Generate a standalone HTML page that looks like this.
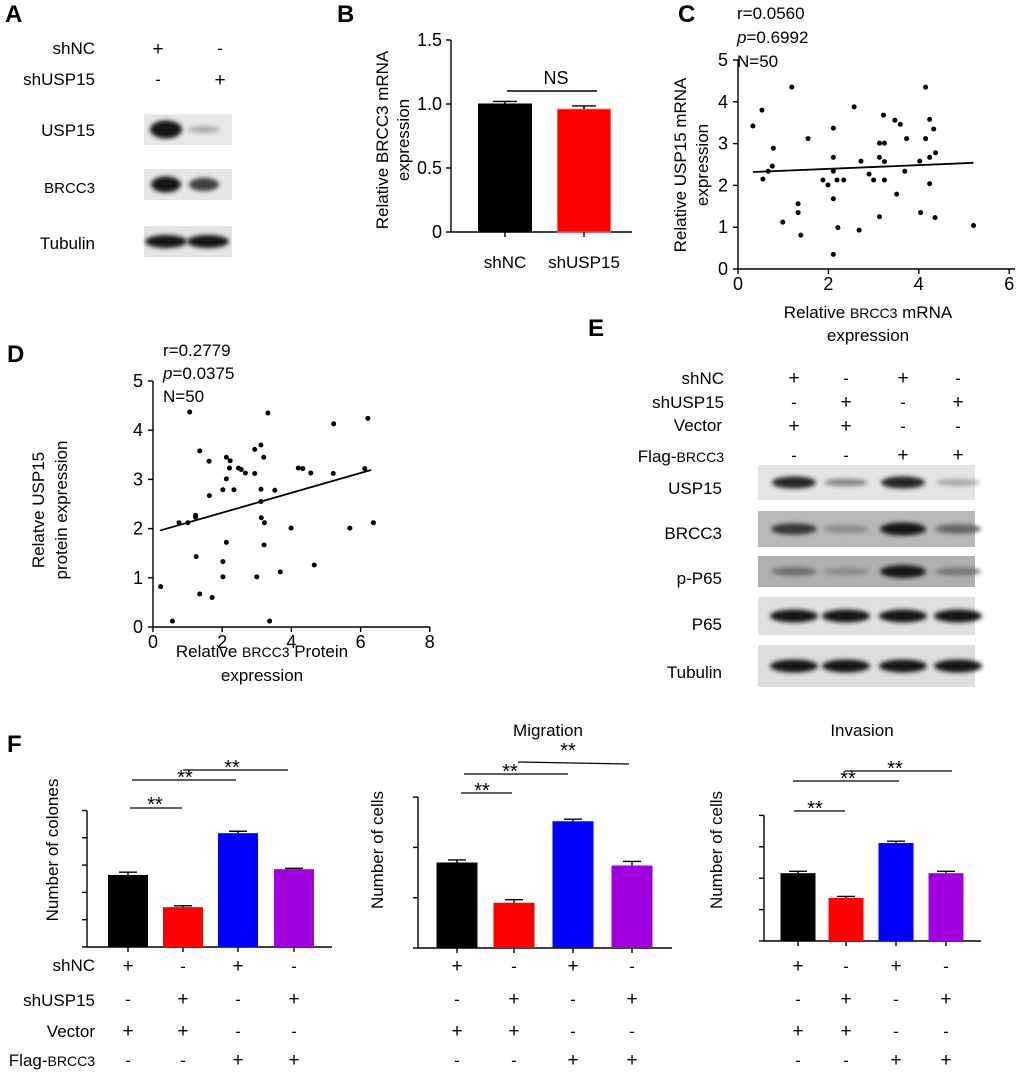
<!DOCTYPE html>
<html><head><meta charset="utf-8"><style>
html,body{margin:0;padding:0;background:#fff}
svg{display:block;font-family:"Liberation Sans",Arial,sans-serif}
</style></head><body>
<svg id="fig" width="1020" height="1077" viewBox="0 0 1020 1077" xmlns="http://www.w3.org/2000/svg">
<defs>
<filter id="blur1" x="-20%" y="-100%" width="140%" height="300%"><feGaussianBlur stdDeviation="2"/></filter>
</defs>
<g font-size="17" fill="#000">
<text x="5" y="22" font-size="24" font-weight="bold">A</text>
<text x="337" y="22" font-size="24" font-weight="bold">B</text>
<text x="678" y="22" font-size="24" font-weight="bold">C</text>
<text x="7" y="362" font-size="24" font-weight="bold">D</text>
<text x="588" y="336" font-size="24" font-weight="bold">E</text>
<text x="7" y="752" font-size="24" font-weight="bold">F</text>
</g>
<g id="pA" font-size="17">
<text x="95" y="54" text-anchor="end">shNC</text>
<text x="95" y="85" text-anchor="end">shUSP15</text>
<text x="158" y="55" text-anchor="middle" font-size="19">+</text>
<text x="220" y="54" text-anchor="middle">-</text>
<text x="158" y="85" text-anchor="middle">-</text>
<text x="220" y="86" text-anchor="middle" font-size="19">+</text>
<text x="95" y="136" text-anchor="end">USP15</text>
<text x="95" y="193" text-anchor="end" font-size="15">BRCC3</text>
<text x="95" y="249" text-anchor="end">Tubulin</text>
</g>
<g id="pB" font-size="17">
<text transform="translate(388,140) rotate(-90)" text-anchor="middle">Relative BRCC3 mRNA</text>
<text transform="translate(409,140) rotate(-90)" text-anchor="middle">expression</text>
</g>
<g id="pC" font-size="17">
<text x="737" y="19">r=0.0560</text>
<text x="737" y="43"><tspan font-style="italic">p</tspan>=0.6992</text>
<text x="737" y="67">N=50</text>
<text transform="translate(686,165) rotate(-90)" text-anchor="middle">Relative USP15  mRNA</text>
<text transform="translate(708,165) rotate(-90)" text-anchor="middle">expression</text>
<text x="868" y="318" text-anchor="middle">Relative <tspan font-size="14">BRCC3</tspan> mRNA</text>
<text x="868" y="341" text-anchor="middle">expression</text>
</g>
<g id="pD" font-size="17">
<text x="163" y="356">r=0.2779</text>
<text x="163" y="379"><tspan font-style="italic">p</tspan>=0.0375</text>
<text x="163" y="402">N=50</text>
<text transform="translate(44,510) rotate(-90)" text-anchor="middle">Relatve USP15</text>
<text transform="translate(67,510) rotate(-90)" text-anchor="middle">protein expression</text>
<text x="262" y="657" text-anchor="middle">Relative <tspan font-size="14">BRCC3</tspan> Protein</text>
<text x="262" y="681" text-anchor="middle">expression</text>
</g>
<g id="pE" font-size="17">
<text x="724" y="384" text-anchor="end">shNC</text>
<text x="724" y="408" text-anchor="end">shUSP15</text>
<text x="722" y="431" text-anchor="end">Vector</text>
<text x="724" y="462" text-anchor="end">Flag-<tspan font-size="14">BRCC3</tspan></text>
<text x="722" y="494" text-anchor="end">USP15</text>
<text x="722" y="539" text-anchor="end">BRCC3</text>
<text x="722" y="584" text-anchor="end">p-P65</text>
<text x="722" y="630" text-anchor="end">P65</text>
<text x="722" y="678" text-anchor="end">Tubulin</text>
</g>
<g id="pF" font-size="17">
<text x="548" y="736" text-anchor="middle">Migration</text>
<text x="862" y="736" text-anchor="middle">Invasion</text>
<text transform="translate(58,850) rotate(-90)" text-anchor="middle">Number of colones</text>
<text transform="translate(383,850) rotate(-90)" text-anchor="middle">Number of cells</text>
<text transform="translate(722,850) rotate(-90)" text-anchor="middle">Number of cells</text>
<text x="95" y="971" text-anchor="end">shNC</text>
<text x="95" y="1006" text-anchor="end">shUSP15</text>
<text x="95" y="1037" text-anchor="end">Vector</text>
<text x="95" y="1066" text-anchor="end">Flag-<tspan font-size="14">BRCC3</tspan></text>
</g>
</svg>
<script>
const bCategories = ["shNC", "shUSP15"];
const bValues = [1.0, 0.96];
const bErrors = [0.02, 0.025];
const bTicks = ["0", "0.5", "1.0", "1.5"];

const cX = [0.33,0.53,0.55,0.67,0.76,0.78,1.19,0.99,1.33,1.33,1.39,1.55,1.88,1.99,2.11,2.11,2.11,2.11,2.19,2.34,2.21,2.11,2.57,2.68,2.72,2.90,3.00,3.13,3.13,3.13,3.22,3.24,3.24,3.24,3.47,3.51,3.59,3.69,3.73,4.02,4.04,4.15,4.15,4.24,4.24,4.24,4.33,4.37,4.36,5.21];
const cY = [3.42,3.80,2.15,2.34,2.46,2.89,4.35,1.12,1.56,1.35,0.81,3.12,2.13,2.01,3.37,2.67,2.34,1.68,2.13,2.13,0.99,0.35,3.88,0.93,2.58,2.27,2.13,3.01,2.67,1.25,3.68,3.01,2.57,2.13,3.56,1.79,3.46,2.34,3.12,2.58,1.35,4.35,3.12,3.58,2.67,2.04,3.35,2.78,1.23,1.04];
const cFitX = [0.33, 5.21];
const cFitY = [2.32, 2.54];
const cXTicks = [0, 2, 4, 6];
const cYTicks = [0, 1, 2, 3, 4, 5];

const dX = [0.22,0.56,1.06,1.35,1.62,1.23,1.23,0.75,1.01,1.25,1.35,1.71,1.63,2.02,2.12,2.12,2.23,2.21,2.34,2.47,2.67,2.94,2.94,3.12,3.12,3.20,3.12,3.13,3.22,3.21,3.32,3.37,3.52,3.68,3.99,2.02,2.02,2.12,3.00,4.20,4.33,4.56,4.66,5.21,5.22,5.69,6.12,6.21,6.37,2.55];
const dY = [0.82,0.12,4.37,3.58,3.37,2.27,2.23,2.12,2.12,1.43,0.67,0.60,2.67,2.79,3.01,3.45,3.38,3.23,2.79,3.23,3.13,3.61,3.12,3.70,2.80,3.45,2.55,2.22,2.12,1.67,4.35,0.12,2.78,1.12,2.01,1.33,1.02,1.72,1.02,3.23,3.22,3.13,1.26,3.12,4.13,2.01,3.22,4.24,2.12,3.20];
const dFitX = [0.2, 6.3];
const dFitY = [1.96, 3.19];
const dXTicks = [0, 2, 4, 6, 8];
const dYTicks = [0, 1, 2, 3, 4, 5];

const fGroups = ["shNC+Vector", "shUSP15+Vector", "shNC+Flag-BRCC3", "shUSP15+Flag-BRCC3"];
const fColoniesValues = [2.64, 1.46, 4.17, 2.85];
const fColoniesErrors = [0.1, 0.05, 0.07, 0.03];
const fMigrationValues = [1.70, 0.90, 2.52, 1.64];
const fMigrationErrors = [0.05, 0.06, 0.04, 0.08];
const fInvasionValues = [2.16, 1.37, 3.12, 2.16];
const fInvasionErrors = [0.06, 0.05, 0.06, 0.06];
const fRowShNC = ["+", "-", "+", "-"];
const fRowShUSP15 = ["-", "+", "-", "+"];
const fRowVector = ["+", "+", "-", "-"];
const fRowFlag = ["-", "-", "+", "+"];
const fColors = ["#000000", "#ff0000", "#0000ff", "#a000e0"];

const aUSP15 = [1.0, 0.15];
const aBRCC3 = [1.0, 0.75];
const aTubulin = [1.0, 1.0];
const eUSP15 = [0.9, 0.35, 0.9, 0.2];
const eBRCC3 = [0.8, 0.35, 1.0, 0.55];
const ePP65 = [0.5, 0.35, 1.0, 0.45];
const eP65 = [1.0, 1.0, 1.0, 1.0];
const eTubulin = [1.0, 1.0, 1.0, 1.0];
const eShNC = ["+", "-", "+", "-"];
const eShUSP15 = ["-", "+", "-", "+"];
const eVector = ["+", "+", "-", "-"];
const eFlag = ["-", "-", "+", "+"];

const NS = "http://www.w3.org/2000/svg";
const svg = document.getElementById("fig");
function mk(tag, attrs, parent) {
  const e = document.createElementNS(NS, tag);
  for (const k in attrs) e.setAttribute(k, attrs[k]);
  (parent || svg).appendChild(e);
  return e;
}
function line(x1, y1, x2, y2, w) {
  const l = mk("line", {x1, y1, x2, y2, stroke: "#000", "stroke-width": w || 1.4});
  
  
  return l;
}
function txt(x, y, s, anchor, size) {
  const t = mk("text", {x, y, "text-anchor": anchor || "middle", "font-size": size || 17});
  t.textContent = s;
  
  
  return t;
}

(function () {
  const x0 = 451, base = 232, unit = 128, centers = [505, 584], bw = 53;
  const y = v => base - v * unit;
  line(x0, y(1.5), x0, base);
  line(x0, base, 632, base);
  bTicks.forEach(t => {
    const v = parseFloat(t);
    line(x0 - 5, y(v), x0, y(v));
    txt(x0 - 9, y(v) + 6, t, "end", 18);
  });
  bValues.forEach((v, i) => {
    const c = centers[i];
    const r = mk("rect", {x: c - bw / 2, y: y(v), width: bw, height: base - y(v), fill: i ? "#ff0000" : "#000", stroke: i ? "#ff6060" : "#000"});
    
    
    line(c, y(v), c, y(v + bErrors[i]), 1.4);
    line(c - 12, y(v + bErrors[i]), c + 12, y(v + bErrors[i]), 1.4);
    line(c, base, c, base + 5);
    txt(c, 268, bCategories[i], "middle", 17);
  });
  line(507, 91, 597, 91);
  txt(556, 84, "NS", "middle", 18);
})();

function scatter(xs, ys, fx, fy, xt, yt, x0, y0, xu, yu, xEnd, yTop, name) {
  const X = v => x0 + v * xu, Y = v => y0 - v * yu;
  line(x0, yTop, x0, y0);
  line(x0, y0, xEnd, y0);
  yt.forEach(v => { line(x0 - 5, Y(v), x0, Y(v)); txt(x0 - 10, Y(v) + 6, String(v), "end", 18); });
  xt.forEach(v => { line(X(v), y0, X(v), y0 + 5); txt(X(v), y0 + 21, String(v), "middle", 18); });
  xs.forEach((v, i) => {
    const c = mk("circle", {cx: X(v), cy: Y(ys[i]), r: 2.5, fill: "#000"});
    
    
  });
  const f = mk("line", {x1: X(fx[0]), y1: Y(fy[0]), x2: X(fx[1]), y2: Y(fy[1]), stroke: "#000", "stroke-width": 1.8});
  
  
}
scatter(cX, cY, cFitX, cFitY, cXTicks, cYTicks, 738, 269, 45.2, 41.8, 1015, 59, "c");
scatter(dX, dY, dFitX, dFitY, dXTicks, dYTicks, 153, 627, 34.6, 49.2, 430, 381, "d");

function blot(x, y, w, h, lanes, vals, bg, name, bandW, ryMax) {
  const g = mk("g", {});
  
  
  mk("rect", {x, y, width: w, height: h, fill: bg}, g);
  vals.forEach((v, i) => {
    const shade = Math.round(20 + (1 - v) * 180);
    mk("ellipse", {cx: lanes[i], cy: y + h / 2, rx: bandW / 2, ry: 2.5 + v * (ryMax || 4), fill: `rgb(${shade},${shade},${shade})`, filter: "url(#blur1)"}, g);
  });
}
blot(144, 114, 88, 31, [166, 204], aUSP15, "#e8e8e8", "a-usp15-blot", 32, 6.5);
blot(144, 169, 88, 31, [166, 204], aBRCC3, "#e6e6e6", "a-brcc3-blot", 30, 5.5);
blot(144, 226, 88, 31, [166, 208], aTubulin, "#e4e4e4", "a-tubulin-blot", 42, 4);
const eLanes = [794, 846, 903, 958];
blot(758, 465, 217, 35, eLanes, eUSP15, "#e4e4e4", "e-usp15-blot", 44);
blot(758, 511, 217, 36, eLanes, eBRCC3, "#b8b8b8", "e-brcc3-blot", 46);
blot(758, 556, 217, 31, eLanes, ePP65, "#b0b0b0", "e-pp65-blot", 46);
blot(758, 597, 217, 38, eLanes, eP65, "#e0e0e0", "e-p65-blot", 48);
blot(758, 645, 217, 42, eLanes, eTubulin, "#dedede", "e-tubulin-blot", 48);
[[eShNC, 384], [eShUSP15, 408], [eVector, 432], [eFlag, 461]].forEach(r => {
  r[0].forEach((s, i) => txt(eLanes[i], r[1], s, "middle", s === "+" ? 19 : 17));
});

function fchart(vals, errs, x0, base, unit, nt, centers, bw, xEnd, sig, name) {
  const Y = v => base - v * unit;
  line(x0, Y(nt), x0, base);
  line(x0, base, xEnd, base);
  for (let t = 0; t <= nt; t++) line(x0 - 5, Y(t), x0, Y(t));
  vals.forEach((v, i) => {
    const c = centers[i];
    const r = mk("rect", {x: c - bw / 2, y: Y(v), width: bw, height: base - Y(v), fill: fColors[i]});
    
    
    line(c, Y(v), c, Y(v + errs[i]), 1.4);
    line(c - 9, Y(v + errs[i]), c + 9, Y(v + errs[i]), 1.4);
    line(c, base, c, base + 5);
  });
  sig.forEach(s => {
    line(s[0], s[2], s[1], s[3] || s[2], 1.2);
    txt(s[4], s[5] + 5, "**", "middle", 20);
  });
  [[fRowShNC, 972], [fRowShUSP15, 1005], [fRowVector, 1037], [fRowFlag, 1066]].forEach(r => {
    r[0].forEach((s, i) => txt(centers[i], r[1], s, "middle", s === "+" ? 19 : 17));
  });
}
fchart(fColoniesValues, fColoniesErrors, 87, 947, 27.3, 5, [128, 183, 238, 294], 40, 332,
  [[130, 182, 808, 0, 155, 806], [132, 236, 780, 0, 185, 779], [183, 288, 770, 0, 232, 769]], "colonies");
fchart(fMigrationValues, fMigrationErrors, 418, 948, 50.3, 3, [457, 514, 573, 632], 41, 672,
  [[461, 512, 793, 0, 482, 792], [464, 568, 774, 0, 510, 773], [518, 629, 762, 764, 568, 752]], "migration");
fchart(fInvasionValues, fInvasionErrors, 764, 941, 31.4, 4, [798, 846, 896, 946], 35, 981,
  [[794, 845, 811, 0, 815, 810], [793, 899, 781, 0, 848, 780], [845, 952, 771, 0, 895, 770]], "invasion");
</script>
</body></html>
